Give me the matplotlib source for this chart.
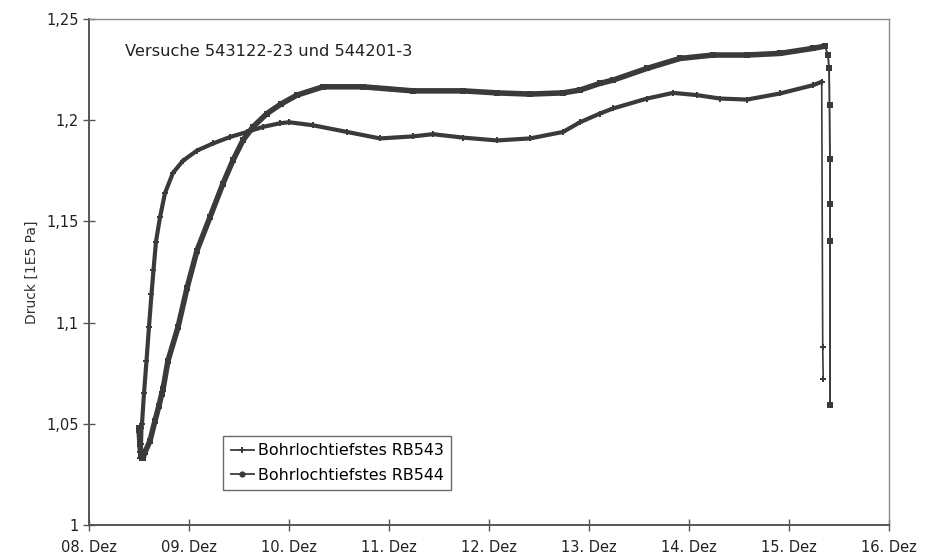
import matplotlib
matplotlib.use("Agg")
import matplotlib.pyplot as plt

plt.rcParams['font.family'] = ['DejaVu Sans']

# time axis: days after 08. Dez, 00:00
day_labels = ["08. Dez", "09. Dez", "10. Dez", "11. Dez", "12. Dez",
              "13. Dez", "14. Dez", "15. Dez", "16. Dez"]

# pressure at the lowest point of borehole RB543 [1E5 Pa]
t_rb543 = [0.505, 0.510, 0.515, 0.520, 0.525, 0.530, 0.550, 0.575, 0.600,
           0.625, 0.645, 0.670, 0.710, 0.760, 0.840, 0.940, 1.080, 1.240,
           1.410, 1.580, 1.740, 1.910, 2.000, 2.240, 2.580, 2.910, 3.240,
           3.440, 3.740, 4.080, 4.410, 4.740, 4.910, 5.110, 5.240, 5.580,
           5.840, 6.080, 6.310, 6.580, 6.910, 7.240, 7.327, 7.337, 7.342]
p_rb543 = [1.046, 1.036, 1.033, 1.040, 1.048, 1.050, 1.065, 1.081, 1.098,
           1.114, 1.126, 1.140, 1.152, 1.164, 1.174, 1.180, 1.185, 1.1885,
           1.1917, 1.1942, 1.1967, 1.1985, 1.199, 1.1975, 1.1942, 1.191, 1.192,
           1.1931, 1.1914, 1.190, 1.191, 1.1942, 1.199, 1.2033, 1.2058, 1.2107,
           1.2135, 1.2124, 1.2107, 1.2102, 1.2132, 1.2173, 1.219, 1.0878, 1.0723]

# pressure at the lowest point of borehole RB544 [1E5 Pa]
t_rb544 = [0.500, 0.510, 0.520, 0.540, 0.560, 0.610, 0.660, 0.700, 0.727,
           0.740, 0.790, 0.890, 0.980, 1.080, 1.210, 1.340, 1.440, 1.540,
           1.640, 1.780, 1.920, 2.080, 2.340, 2.740, 3.240, 3.740, 4.080,
           4.410, 4.740, 4.910, 5.110, 5.240, 5.580, 5.910, 6.240, 6.580,
           6.910, 7.240, 7.360, 7.390, 7.400, 7.405, 7.410, 7.410, 7.410, 7.410]
p_rb544 = [1.048, 1.040, 1.034, 1.033, 1.036, 1.0416, 1.0515, 1.059, 1.0647,
           1.067, 1.0812, 1.0977, 1.117, 1.1356, 1.1521, 1.1687, 1.1802, 1.1901,
           1.1967, 1.2033, 1.208, 1.2124, 1.2165, 1.2165, 1.2145, 1.2145, 1.2135,
           1.2129, 1.2135, 1.2149, 1.2182, 1.2198, 1.2256, 1.2305, 1.2322, 1.2322,
           1.233, 1.2355, 1.2366, 1.232, 1.226, 1.2074, 1.1807, 1.1584, 1.1402, 1.0593]

y_ticks = [1.0, 1.05, 1.1, 1.15, 1.2, 1.25]
y_tick_labels = ["1", "1,05", "1,1", "1,15", "1,2", "1,25"]

ink = "#3a3a3a"

fig = plt.figure(figsize=(9.25, 5.59), dpi=100)
ax = fig.add_axes([0.0962, 0.0608, 0.8649, 0.9052])

# peak index where the pressure drop at the end of the test begins
k543 = p_rb543.index(max(p_rb543[-5:])) + 1
k544 = p_rb544.index(max(p_rb544[-10:])) + 1

# RB543: small cross markers
ax.plot(t_rb543[:k543], p_rb543[:k543], color=ink, lw=3.0,
        marker='P', ms=3.8, mew=0, solid_capstyle='round',
        solid_joinstyle='round', zorder=3)
ax.plot(t_rb543[k543 - 1:], p_rb543[k543 - 1:], color=ink, lw=1.2,
        marker='P', ms=3.8, mew=0, zorder=3)

# RB544: small square markers, heavier trace
ax.plot(t_rb544[:k544], p_rb544[:k544], color=ink, lw=4.0,
        marker='s', ms=3.8, mew=0, solid_capstyle='round',
        solid_joinstyle='round', zorder=3)
ax.plot(t_rb544[k544 - 1:], p_rb544[k544 - 1:], color=ink, lw=1.4,
        marker='s', ms=4.4, mew=0, zorder=3)

# legend proxies
h1, = ax.plot([], [], color=ink, lw=1.3, marker='P', ms=4.5, mew=0,
              label="Bohrlochtiefstes RB543")
h2, = ax.plot([], [], color=ink, lw=1.3, marker='o', ms=4.5, mew=0,
              label="Bohrlochtiefstes RB544")

ax.set_xlim(0, 8)
ax.set_ylim(1.0, 1.25)
ax.set_xticks(range(len(day_labels)))
ax.set_xticklabels(day_labels)
ax.set_yticks(y_ticks)
ax.set_yticklabels(y_tick_labels)

ax.tick_params(axis='both', direction='inout', length=9, width=1.0,
               color="#555555", labelsize=10.5, labelcolor="#222222")
ax.tick_params(axis='x', pad=6)
ax.tick_params(axis='y', pad=3)

for side in ('left', 'bottom'):
    ax.spines[side].set_color("#555555")
    ax.spines[side].set_linewidth(1.4)
for side in ('top', 'right'):
    ax.spines[side].set_color("#8a8a8a")
    ax.spines[side].set_linewidth(1.0)

ax.set_ylabel("Druck [1E5 Pa]", fontsize=10, color="#333333", labelpad=5)

ax.text(0.045, 0.935, "Versuche 543122-23 und 544201-3",
        transform=ax.transAxes, fontsize=11.7, color="#222222",
        ha='left', va='center')

leg = ax.legend(handles=[h1, h2], loc='lower left',
                bbox_to_anchor=(0.168, 0.069), fontsize=11.4,
                frameon=True, fancybox=False, borderpad=0.45,
                handlelength=1.5, handletextpad=0.25, labelspacing=0.6,
                borderaxespad=0)
leg.get_frame().set_edgecolor("#444444")
leg.get_frame().set_linewidth(1.0)

fig.savefig("out.png", dpi=100)
